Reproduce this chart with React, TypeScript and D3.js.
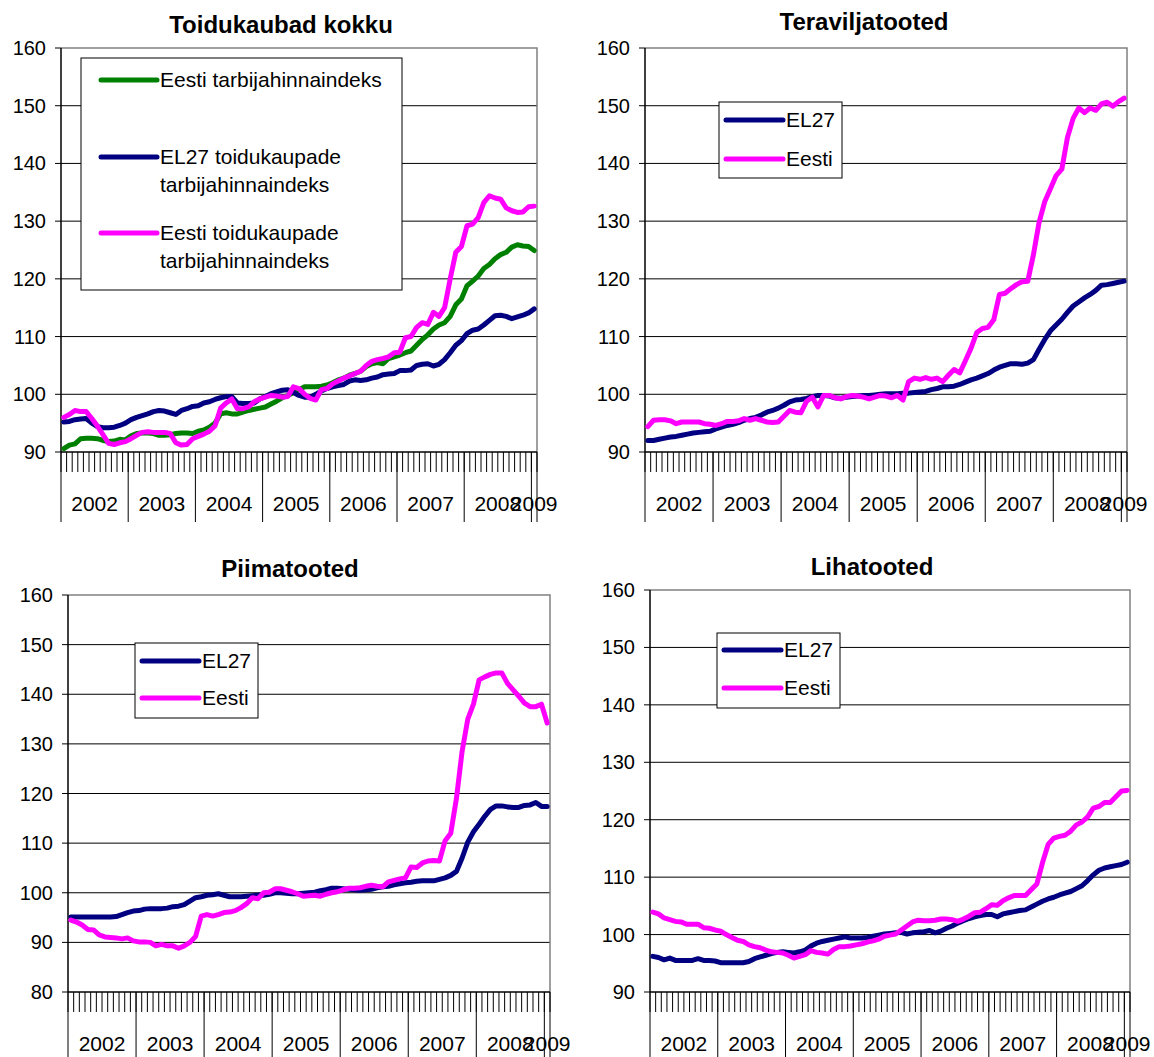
import * as d3 from "d3";
import * as React from "react";

// categories: Jan 2002 .. Jan 2009 (monthly)
const years = ["2002", "2003", "2004", "2005", "2006", "2007", "2008", "2009"];
const monthsInYear = [12, 12, 12, 12, 12, 12, 12, 1];
const months = years.flatMap((yr, i) =>
  d3.range(monthsInYear[i]).map((m) => `${yr}-${String(m + 1).padStart(2, "0")}`)
);

// Toidukaubad kokku
const totalEstoniaCpi = [
  90.6, 91.2, 91.4, 92.3, 92.4, 92.4, 92.3, 92.0, 91.8, 91.9, 92.2, 92.1,
  92.8, 93.2, 93.3, 93.3, 93.2, 92.9, 92.9, 93.0, 93.2, 93.3, 93.3, 93.2,
  93.6, 93.8, 94.3, 95.0, 96.6, 96.8, 96.6, 96.6, 96.9, 97.2, 97.4, 97.6,
  97.8, 98.3, 98.8, 99.4, 99.8, 100.3, 100.8, 101.3, 101.3, 101.3, 101.4, 101.6,
  102.0, 102.5, 102.8, 103.3, 103.6, 104.0, 104.8, 105.3, 105.5, 105.3, 106.2, 106.5,
  106.8, 107.2, 107.5, 108.5, 109.5, 110.3, 111.3, 112.0, 112.4, 113.5, 115.5, 116.5,
  118.8, 119.6, 120.5, 121.8, 122.5, 123.5, 124.2, 124.6, 125.5, 125.9, 125.7, 125.6,
  124.9,
];
const totalEu27Food = [
  95.2, 95.3, 95.6, 95.7, 95.8, 95.0, 94.4, 94.2, 94.2, 94.3, 94.6, 95.0,
  95.6, 96.0, 96.3, 96.6, 97.0, 97.2, 97.1, 96.8, 96.5, 97.2, 97.5, 97.9,
  98.0, 98.5, 98.7, 99.1, 99.4, 99.6, 99.6, 98.5, 98.4, 98.4, 98.5, 99.2,
  99.6, 100.1, 100.4, 100.7, 100.8, 100.3, 99.8, 99.5, 99.5, 100.0, 100.6, 101.0,
  101.3, 101.5, 101.7, 102.3, 102.5, 102.4, 102.5, 102.8, 103.0, 103.4, 103.5, 103.6,
  104.1, 104.1, 104.2, 105.0, 105.2, 105.3, 104.9, 105.2, 106.0, 107.2, 108.5, 109.3,
  110.5, 111.1, 111.3, 112.0, 112.8, 113.6, 113.7, 113.5, 113.1, 113.4, 113.7, 114.1,
  114.8,
];
const totalEstoniaFood = [
  96.0, 96.5, 97.2, 97.0, 97.0, 95.8, 94.5, 93.0, 91.5, 91.3, 91.6, 91.8,
  92.3, 92.9, 93.4, 93.5, 93.4, 93.4, 93.4, 93.2, 91.6, 91.2, 91.3, 92.3,
  92.7, 93.1, 93.6, 94.5, 97.6, 98.5, 99.2, 97.5, 97.5, 97.8, 98.7, 99.2,
  99.5, 99.8, 99.7, 99.5, 99.6, 101.3, 101.0, 100.0, 99.3, 99.0, 100.8, 101.0,
  101.8, 102.3, 102.8, 103.2, 103.6, 104.0, 105.0, 105.7, 106.0, 106.2, 106.5, 107.2,
  107.3, 109.8, 110.0, 111.6, 112.4, 112.1, 114.2, 113.5, 115.0, 120.0, 124.6, 125.6,
  129.2, 129.5, 130.6, 133.2, 134.4, 134.0, 133.8, 132.3, 131.8, 131.5, 131.6, 132.5,
  132.6,
];

// Teraviljatooted
const cerealsEu27 = [
  92.0, 92.0, 92.2, 92.4, 92.6, 92.7, 92.9, 93.1, 93.3, 93.4, 93.5, 93.6,
  94.0, 94.3, 94.6, 94.8, 95.1, 95.5, 95.8, 96.0, 96.4, 96.9, 97.2, 97.6,
  98.1, 98.7, 99.0, 99.1, 99.3, 99.6, 99.8, 99.8, 99.7, 99.4, 99.3, 99.5,
  99.6, 99.7, 99.8, 99.8, 99.9, 100.0, 100.1, 100.1, 100.1, 100.2, 100.2, 100.3,
  100.4, 100.5, 100.8, 101.0, 101.3, 101.3, 101.4, 101.7, 102.1, 102.5, 102.8, 103.2,
  103.6, 104.2, 104.7, 105.0, 105.3, 105.3, 105.2, 105.4, 106.0, 107.8, 109.5, 111.0,
  112.0, 113.0, 114.2, 115.3, 116.0, 116.7, 117.3, 118.0, 118.9, 119.0, 119.2, 119.4,
  119.6,
];
const cerealsEstonia = [
  94.4, 95.5, 95.6, 95.6, 95.4, 94.9, 95.2, 95.2, 95.2, 95.2, 94.9, 94.8,
  94.6, 94.9, 95.3, 95.3, 95.4, 95.8, 95.5, 95.8, 95.5, 95.2, 95.1, 95.2,
  96.2, 97.2, 96.9, 96.8, 98.8, 99.5, 97.8, 99.8, 99.8, 99.4, 99.2, 99.6,
  99.8, 99.7, 99.5, 99.2, 99.5, 99.8, 99.7, 99.4, 99.8, 99.0, 102.2, 102.8,
  102.6, 102.9, 102.6, 102.8, 102.2, 103.3, 104.3, 103.7, 105.8, 108.0, 110.7, 111.4,
  111.6, 112.9, 117.3, 117.5, 118.3, 119.0, 119.5, 119.6, 124.2, 129.8, 133.4, 135.6,
  137.9, 139.0, 144.5, 147.8, 149.6, 148.8, 149.6, 149.2, 150.3, 150.6, 149.9, 150.7,
  151.3,
];

// Piimatooted
const dairyEu27 = [
  95.1, 95.1, 95.1, 95.1, 95.1, 95.1, 95.1, 95.1, 95.2, 95.6, 96.0, 96.3,
  96.4, 96.7, 96.8, 96.8, 96.8, 96.9, 97.2, 97.3, 97.6, 98.3, 99.0, 99.2,
  99.5, 99.6, 99.8, 99.5, 99.2, 99.2, 99.2, 99.3, 99.4, 99.5, 99.5, 99.7,
  100.0, 100.0, 99.9, 99.8, 99.8, 99.9, 100.0, 100.1, 100.4, 100.6, 100.9, 100.9,
  100.8, 100.7, 100.6, 100.5, 100.6, 100.7, 101.0, 101.2, 101.3, 101.6, 101.8, 102.0,
  102.1, 102.3, 102.4, 102.4, 102.4, 102.7, 103.0, 103.5, 104.3, 107.0, 110.2, 112.3,
  113.8, 115.4, 116.8, 117.5, 117.5, 117.3, 117.2, 117.2, 117.6, 117.7, 118.2, 117.4,
  117.4,
];
const dairyEstonia = [
  94.5, 94.1, 93.5, 92.6, 92.5, 91.5, 91.1, 91.0, 90.9, 90.7, 90.9, 90.3,
  90.1, 90.1, 90.0, 89.3, 89.6, 89.3, 89.3, 88.8, 89.3, 90.0, 91.2, 95.3,
  95.6, 95.3, 95.6, 96.0, 96.1, 96.4, 97.0, 97.8, 99.0, 98.8, 100.0, 100.1,
  100.8, 100.8, 100.5, 100.2, 99.8, 99.3, 99.4, 99.5, 99.3, 99.7, 100.0, 100.2,
  100.6, 100.9, 100.9, 101.0, 101.3, 101.5, 101.3, 101.2, 102.2, 102.5, 102.8, 103.0,
  105.2, 105.1, 106.0, 106.4, 106.5, 106.4, 110.5, 112.0, 119.0, 128.5, 135.0, 138.0,
  142.9, 143.5, 144.0, 144.3, 144.3, 142.2, 140.9, 139.6, 138.2, 137.5, 137.5, 138.0,
  134.2,
];

// Lihatooted
const meatEu27 = [
  96.2, 96.0, 95.6, 95.9, 95.5, 95.5, 95.5, 95.5, 95.8, 95.5, 95.5, 95.4,
  95.1, 95.1, 95.1, 95.1, 95.1, 95.3, 95.8, 96.1, 96.4, 96.7, 96.9, 97.0,
  96.9, 96.8, 97.0, 97.3, 98.0, 98.5, 98.8, 99.0, 99.2, 99.4, 99.6, 99.4,
  99.4, 99.4, 99.5, 99.7, 99.9, 100.1, 100.2, 100.3, 100.4, 100.1, 100.3, 100.4,
  100.5, 100.7, 100.3, 100.6, 101.1, 101.5, 102.0, 102.4, 102.8, 103.1, 103.3, 103.5,
  103.5, 103.1, 103.6, 103.8, 104.0, 104.2, 104.3, 104.8, 105.3, 105.8, 106.2, 106.5,
  106.9, 107.2, 107.5, 108.0, 108.5, 109.4, 110.4, 111.2, 111.6, 111.8, 112.0, 112.2,
  112.6,
];
const meatEstonia = [
  103.9, 103.6, 102.9, 102.6, 102.3, 102.2, 101.8, 101.8, 101.8, 101.2, 101.1, 100.8,
  100.6, 100.0, 99.5, 99.0, 98.8, 98.2, 97.9, 97.7, 97.3, 97.0, 96.9, 96.8,
  96.4, 95.9, 96.2, 96.5, 97.2, 96.9, 96.8, 96.6, 97.4, 97.9, 97.9, 98.0,
  98.2, 98.4, 98.7, 98.9, 99.2, 99.7, 99.9, 100.1, 100.8, 101.5, 102.2, 102.5,
  102.4, 102.4, 102.5, 102.7, 102.7, 102.6, 102.3, 102.7, 103.2, 103.8, 103.9, 104.5,
  105.2, 105.1, 105.9, 106.4, 106.8, 106.8, 106.8, 107.8, 108.8, 112.5, 115.7, 116.8,
  117.1, 117.3, 118.0, 119.1, 119.6, 120.5, 122.0, 122.3, 123.0, 123.0, 124.0, 125.0,
  125.1,
];

const GREEN = "#008000";
const NAVY = "#000080";
const PINK = "#FF00FF";
const FONT = '"Liberation Sans", Arial, sans-serif';

interface Series {
  name: string[];
  color: string;
  values: number[];
}

interface PanelCfg {
  title: string;
  titleX: number;
  titleY: number;
  left: number;
  right: number;
  top: number;
  bottom: number;
  yDomain: [number, number];
  series: Series[];
  legend: { x: number; y: number; w: number; h: number; rows: number[]; sx: number; sw: number };
}

const panels: PanelCfg[] = [
  {
    title: "Toidukaubad kokku",
    titleX: 281,
    titleY: 33,
    left: 61,
    right: 537,
    top: 48,
    bottom: 452,
    yDomain: [90, 160],
    series: [
      { name: ["Eesti tarbijahinnaindeks"], color: GREEN, values: totalEstoniaCpi },
      { name: ["EL27 toidukaupade", "tarbijahinnaindeks"], color: NAVY, values: totalEu27Food },
      { name: ["Eesti toidukaupade", "tarbijahinnaindeks"], color: PINK, values: totalEstoniaFood },
    ],
    legend: { x: 81, y: 58, w: 321, h: 232, rows: [80, 157, 233], sx: 20, sw: 56 },
  },
  {
    title: "Teraviljatooted",
    titleX: 864,
    titleY: 30,
    left: 645,
    right: 1127,
    top: 48,
    bottom: 452,
    yDomain: [90, 160],
    series: [
      { name: ["EL27"], color: NAVY, values: cerealsEu27 },
      { name: ["Eesti"], color: PINK, values: cerealsEstonia },
    ],
    legend: { x: 719, y: 102, w: 123, h: 76, rows: [120, 159], sx: 7, sw: 57 },
  },
  {
    title: "Piimatooted",
    titleX: 290,
    titleY: 577,
    left: 68,
    right: 550,
    top: 595,
    bottom: 992,
    yDomain: [80, 160],
    series: [
      { name: ["EL27"], color: NAVY, values: dairyEu27 },
      { name: ["Eesti"], color: PINK, values: dairyEstonia },
    ],
    legend: { x: 135, y: 643, w: 123, h: 75, rows: [661, 698], sx: 7, sw: 57 },
  },
  {
    title: "Lihatooted",
    titleX: 872,
    titleY: 575,
    left: 650,
    right: 1130,
    top: 590,
    bottom: 992,
    yDomain: [90, 160],
    series: [
      { name: ["EL27"], color: NAVY, values: meatEu27 },
      { name: ["Eesti"], color: PINK, values: meatEstonia },
    ],
    legend: { x: 717, y: 633, w: 123, h: 75, rows: [650, 688], sx: 7, sw: 57 },
  },
];

function Panel({ cfg }: { cfg: PanelCfg }) {
  const x = d3
    .scaleBand<string>()
    .domain(months)
    .range([cfg.left, cfg.right])
    .padding(0);
  const y = d3.scaleLinear().domain(cfg.yDomain).range([cfg.bottom, cfg.top]);
  const yTicks = d3.range(cfg.yDomain[0], cfg.yDomain[1] + 1, 10);
  const bw = x.bandwidth();

  const line = d3
    .line<number>()
    .x((_, i) => x(months[i])! + bw / 2)
    .y((d) => y(d));

  // band boundaries (minor ticks) and year boundaries (long separators)
  const edges = months.map((m) => x(m)!).concat([cfg.right]);
  const yearStarts = Array.from(d3.cumsum([0, ...monthsInYear]));

  const lg = cfg.legend;

  return (
    <g fontFamily={FONT}>
      <text x={cfg.titleX} y={cfg.titleY} textAnchor="middle" fontWeight="bold" fontSize={24}>
        {cfg.title}
      </text>

      {/* gridlines */}
      {yTicks
        .filter((t) => t > cfg.yDomain[0] && t < cfg.yDomain[1])
        .map((t) => (
          <line key={t} x1={cfg.left} x2={cfg.right} y1={y(t)} y2={y(t)} stroke="#000" strokeWidth={1} />
        ))}

      {/* plot area border (top/right) */}
      <polyline
        points={`${cfg.left},${cfg.top} ${cfg.right},${cfg.top} ${cfg.right},${cfg.bottom}`}
        fill="none"
        stroke="#808080"
        strokeWidth={1.5}
      />

      {/* y axis */}
      <line x1={cfg.left} x2={cfg.left} y1={cfg.top} y2={cfg.bottom} stroke="#000" strokeWidth={1.5} />
      {yTicks.map((t) => (
        <g key={t}>
          <line x1={cfg.left - 6} x2={cfg.left} y1={y(t)} y2={y(t)} stroke="#000" strokeWidth={1} />
          <text x={cfg.left - 15} y={y(t)} dy="0.35em" textAnchor="end" fontSize={20}>
            {t}
          </text>
        </g>
      ))}

      {/* x axis */}
      <line x1={cfg.left} x2={cfg.right} y1={cfg.bottom} y2={cfg.bottom} stroke="#000" strokeWidth={1.5} />
      {edges.map((ex, i) => (
        <line key={i} x1={ex} x2={ex} y1={cfg.bottom} y2={cfg.bottom + 20} stroke="#000" strokeWidth={1} />
      ))}
      {yearStarts.map((s, i) => (
        <line
          key={"sep" + i}
          x1={edges[s]}
          x2={edges[s]}
          y1={cfg.bottom}
          y2={cfg.bottom + 70}
          stroke="#000"
          strokeWidth={1}
        />
      ))}
      {years.map((yr, i) => (
        <text
          key={yr}
          x={(edges[yearStarts[i]] + edges[yearStarts[i + 1]]) / 2}
          y={cfg.bottom + 59}
          textAnchor="middle"
          fontSize={21}
        >
          {yr}
        </text>
      ))}

      {/* series */}
      {cfg.series.map((s) => (
        <path
          key={s.name.join(" ")}
          d={line(s.values) ?? ""}
          fill="none"
          stroke={s.color}
          strokeWidth={5}
          strokeLinejoin="round"
          strokeLinecap="round"
        />
      ))}

      {/* legend */}
      <rect x={lg.x} y={lg.y} width={lg.w} height={lg.h} fill="#fff" stroke="#000" strokeWidth={1} />
      {cfg.series.map((s, i) => (
        <g key={"lg" + i}>
          <line
            x1={lg.x + lg.sx}
            x2={lg.x + lg.sx + lg.sw}
            y1={lg.rows[i]}
            y2={lg.rows[i]}
            stroke={s.color}
            strokeWidth={5}
            strokeLinecap="round"
          />
          {s.name.map((t, j) => (
            <text
              key={j}
              x={lg.x + lg.sx + lg.sw + 3}
              y={lg.rows[i] + j * 28}
              dy="0.35em"
              fontSize={21}
            >
              {t}
            </text>
          ))}
        </g>
      ))}
    </g>
  );
}

export default function App() {
  return (
    <svg
      width={1154}
      height={1057}
      style={{ position: "absolute", left: 0, top: 0, background: "#fff" }}
    >
      <rect width={1154} height={1057} fill="#fff" />
      {panels.map((p) => (
        <Panel key={p.title} cfg={p} />
      ))}
    </svg>
  );
}
